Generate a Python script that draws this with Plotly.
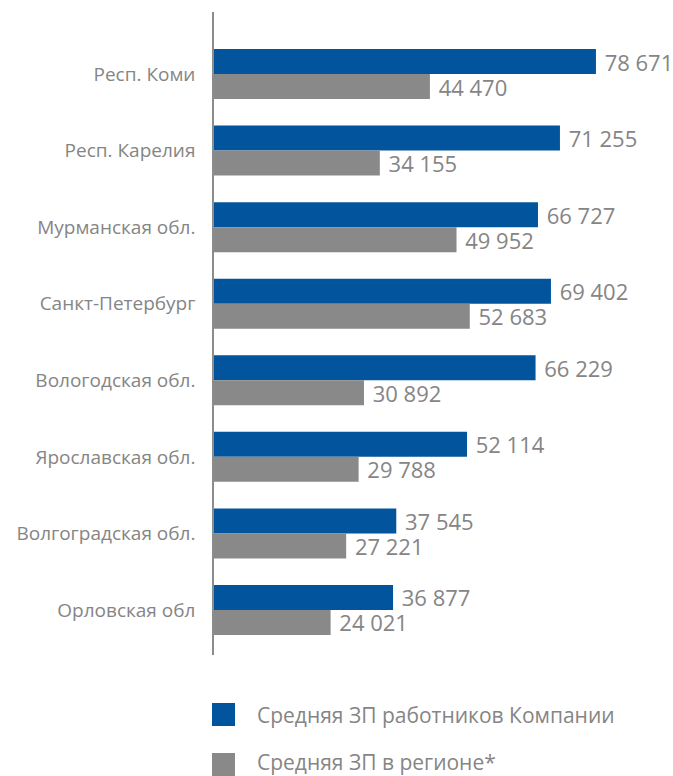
import plotly.graph_objects as go

categories = ["Респ. Коми", "Респ. Карелия", "Мурманская обл.", "Санкт-Петербург",
              "Вологодская обл.", "Ярославская обл.", "Волгоградская обл.", "Орловская обл"]
company_avg = [78671, 71255, 66727, 69402, 66229, 52114, 37545, 36877]
region_avg = [44470, 34155, 49952, 52683, 30892, 29788, 27221, 24021]
series_names = ["Средняя ЗП работников Компании", "Средняя ЗП в регионе*"]

BLUE = "#02549d"
GRAY = "#898989"
TXT = "#858585"
FONT = "Open Sans"

W, H = 673, 776
L, T, B = 214, 12, 121
plot_h = H - T - B


def fmt(v):
    return " " + f"{v:,}".replace(",", " ")


def py(pix):
    return (H - B - pix) / plot_h


def px(pix):
    return (pix - L) / (W - L)


fig = go.Figure()
for name, vals, col in [(series_names[0], company_avg, BLUE), (series_names[1], region_avg, GRAY)]:
    fig.add_trace(go.Bar(
        y=categories, x=vals, orientation="h", name=name,
        marker=dict(color=col, line=dict(width=0)),
        text=[fmt(v) for v in vals], textposition="outside",
        textfont=dict(family=FONT, size=22, color=TXT),
        constraintext="none", cliponaxis=False, showlegend=False,
    ))

fig.update_layout(
    width=W, height=H,
    margin=dict(l=L, r=0, t=T, b=B),
    paper_bgcolor="white", plot_bgcolor="white",
    barmode="group", bargap=0.347, bargroupgap=0,
    font=dict(family=FONT, color=TXT),
    xaxis=dict(range=[0, 94540], visible=False, fixedrange=True),
    yaxis=dict(type="category", range=[7.588, -0.81], showgrid=False,
               showline=True, linecolor="#8c8c8c", linewidth=1.5,
               ticks="", ticklabelstandoff=13,
               tickfont=dict(family=FONT, size=19, color=TXT)),
)

legend_items = [(series_names[0], BLUE, 703, 715), (series_names[1], GRAY, 753, 762)]
for name, col, top, tmid in legend_items:
    fig.add_shape(type="rect", xref="paper", yref="paper",
                  x0=px(212), x1=px(235), y0=py(min(top + 23, H)), y1=py(top),
                  fillcolor=col, line=dict(width=0))
    fig.add_annotation(xref="paper", yref="paper", x=px(255), y=py(tmid),
                       xanchor="left", yanchor="middle", showarrow=False,
                       text=name, font=dict(family=FONT, size=21, color=TXT))

fig.write_html("out.html")
